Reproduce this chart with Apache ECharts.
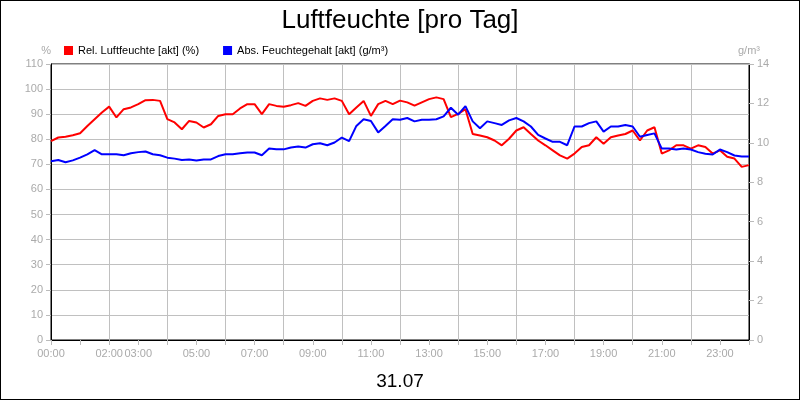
<!DOCTYPE html>
<html><head><meta charset="utf-8">
<script src="https://cdn.jsdelivr.net/npm/echarts@6/dist/echarts.min.js"></script>
<style>html,body{margin:0;padding:0;background:#fff}#c{width:800px;height:400px;box-sizing:border-box;border:1px solid #000}</style>
</head><body><div id="c"></div>
<script>
const shownLabels = ["00:00","02:00","03:00","05:00","07:00","09:00","11:00","13:00","15:00","17:00","19:00","21:00","23:00"];
const relHumidity = [
79.3,80.7,81,81.6, 82.4,85.3,88,90.7, 93,88.7,92,92.7, 94,95.6,95.7,95.3,
88,86.7,84,87.3, 86.7,84.7,86,89.3, 90,90,92.3,94, 94,90,94,93.3,
93,93.6,94.4,93.3, 95.3,96.3,95.7,96.3, 95.3,90,92.7,95.3, 89.3,94,95.3,94,
95.4,94.7,93.4,94.7, 96,96.7,96,88.8, 90.1,92,82.1,81.5, 80.8,79.5,77.6,80.2,
83.5,84.8,82.1,79.5, 77.6,75.6,73.6,72.3, 74.3,76.9,77.6,80.8, 78.2,80.8,81.5,82.1,
83.5,79.5,83.5,84.8, 74.3,75.6,77.6,77.6, 76.3,77.6,76.9,74.3, 75.6,73,72.3,69,
69.7];
const absHumidity = [
9.07,9.13,9.02,9.11, 9.25,9.42,9.63,9.42, 9.42,9.42,9.37,9.47, 9.53,9.56,9.42,9.37,
9.25,9.2,9.13,9.16, 9.11,9.16,9.16,9.33, 9.42,9.42,9.47,9.51, 9.51,9.37,9.71,9.67,
9.67,9.76,9.81,9.76, 9.93,9.98,9.88,10.02, 10.27,10.09,10.86,11.2, 11.11,10.53,10.86,11.2,
11.17,11.26,11.09,11.17, 11.17,11.2,11.34,11.78, 11.43,11.86,11.09,10.74, 11.09,11.0,10.91,11.14,
11.26,11.09,10.83,10.4, 10.22,10.05,10.05,9.88, 10.83,10.83,11.0,11.09, 10.57,10.83,10.83,10.91,
10.83,10.31,10.4,10.48, 9.71,9.71,9.66,9.71, 9.66,9.53,9.45,9.41, 9.66,9.53,9.36,9.31,
9.31];
const times = relHumidity.map((_, i) => {
  const m = i * 15, h = Math.floor(m / 60) % 24;
  return String(h).padStart(2, "0") + ":" + String(m % 60).padStart(2, "0");
});
const F = "Liberation Sans, Arial, sans-serif";
const chart = echarts.init(document.getElementById('c'));
chart.setOption({
  animation: false,
  textStyle: {fontFamily: F},
  title: [
    {text: "Luftfeuchte [pro Tag]", left: "center", top: 2, textStyle: {fontSize: 26, fontWeight: "normal", color: "#000", fontFamily: F}},
    {text: "31.07", left: "center", top: 366, textStyle: {fontSize: 19, fontWeight: "normal", color: "#000", fontFamily: F}}
  ],
  legend: {
    left: 58, top: 39, itemWidth: 9, itemHeight: 9, itemGap: 24, icon: "rect",
    textStyle: {fontSize: 11, color: "#000", fontFamily: F},
    data: ["Rel. Luftfeuchte [akt] (%)", "Abs. Feuchtegehalt [akt] (g/m³)"]
  },
  grid: {left: 50, right: 50, top: 63, bottom: 59, show: true, borderColor: "#000", borderWidth: 1},
  xAxis: {
    type: "category", boundaryGap: false, data: times,
    axisLine: {lineStyle: {color: "#000"}},
    axisTick: {interval: i => i % 4 === 0, lineStyle: {color: "#bbb"}, length: 5},
    axisLabel: {interval: i => shownLabels.includes(times[i]) && i % 4 === 0 && i < 96, color: "#aaa", fontSize: 11, margin: 8},
    splitLine: {show: true, interval: i => i % 8 === 0, lineStyle: {color: "#c0c0c0"}}
  },
  yAxis: [
    {type: "value", min: 0, max: 110, interval: 10, name: "%", nameGap: 8,
     nameTextStyle: {color: "#aaa", fontSize: 11, align: "right", padding: [0, 0, 0, 0]},
     axisLine: {show: true, lineStyle: {color: "#000"}},
     axisTick: {show: true, lineStyle: {color: "#bbb"}},
     axisLabel: {color: "#aaa", fontSize: 11},
     splitLine: {lineStyle: {color: "#c0c0c0"}}},
    {type: "value", min: 0, max: 14, interval: 2, name: "g/m³", nameGap: 8,
     nameTextStyle: {color: "#aaa", fontSize: 11},
     axisLine: {show: true, lineStyle: {color: "#000"}},
     axisTick: {show: true, lineStyle: {color: "#bbb"}},
     axisLabel: {color: "#aaa", fontSize: 11},
     splitLine: {show: false}}
  ],
  series: [
    {name: "Rel. Luftfeuchte [akt] (%)", type: "line", data: relHumidity, yAxisIndex: 0, symbol: "none", color: "#ff0000", lineStyle: {width: 2}},
    {name: "Abs. Feuchtegehalt [akt] (g/m³)", type: "line", data: absHumidity, yAxisIndex: 1, symbol: "none", color: "#0000ff", lineStyle: {width: 2}}
  ]
});
</script></body></html>
